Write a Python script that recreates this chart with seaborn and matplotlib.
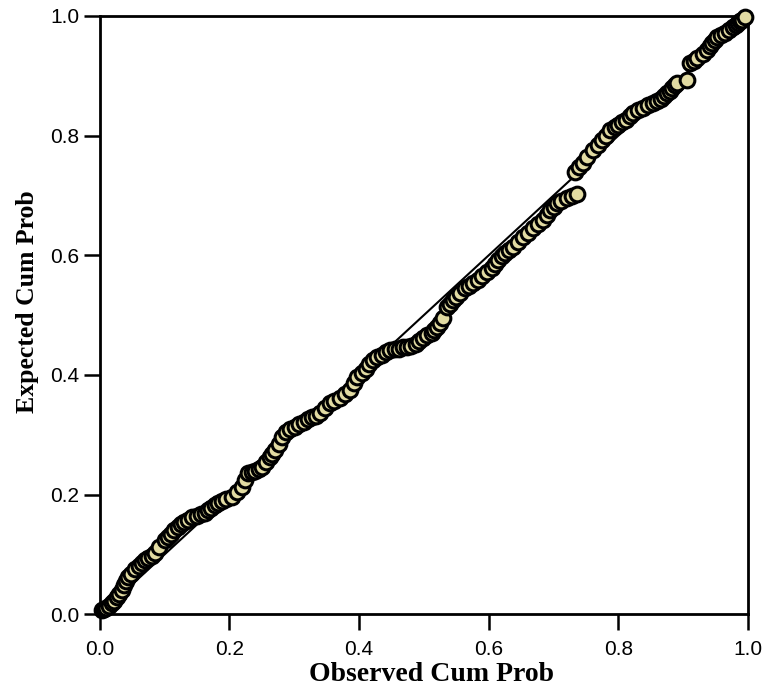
import pandas as pd
import seaborn as sns
import matplotlib.pyplot as plt

# P-P plot values (observed vs expected cumulative probability)
observed_lower = [0.003, 0.006, 0.010, 0.014, 0.018, 0.022, 0.026, 0.030, 0.034, 0.037,
                  0.040, 0.043, 0.048, 0.055, 0.060, 0.065, 0.070, 0.075, 0.080, 0.085,
                  0.092, 0.100, 0.105, 0.110, 0.115, 0.120, 0.125, 0.130, 0.136, 0.142,
                  0.150, 0.156, 0.162, 0.167, 0.172, 0.177, 0.182, 0.188, 0.195, 0.204,
                  0.212, 0.219, 0.224, 0.228, 0.234, 0.240, 0.245, 0.250, 0.256, 0.262,
                  0.266, 0.270, 0.276, 0.281, 0.287, 0.293, 0.301, 0.308, 0.315, 0.321,
                  0.327, 0.334, 0.340, 0.347, 0.355, 0.362, 0.370, 0.378, 0.386, 0.392,
                  0.397, 0.404, 0.410, 0.416, 0.421, 0.428, 0.435, 0.441, 0.448, 0.455,
                  0.462, 0.468, 0.474, 0.480, 0.487, 0.493, 0.499, 0.505, 0.512, 0.516,
                  0.520, 0.525, 0.530, 0.535, 0.540, 0.545, 0.550, 0.556, 0.563, 0.570,
                  0.576, 0.583, 0.590, 0.597, 0.605, 0.610, 0.615, 0.620, 0.625, 0.631,
                  0.637, 0.645, 0.653, 0.660, 0.668, 0.676, 0.684, 0.690, 0.695, 0.700,
                  0.705, 0.712, 0.720, 0.728, 0.736]
expected_lower = [0.007, 0.008, 0.010, 0.013, 0.018, 0.022, 0.028, 0.033, 0.040, 0.048,
                  0.055, 0.062, 0.067, 0.075, 0.080, 0.085, 0.090, 0.094, 0.098, 0.102,
                  0.112, 0.124, 0.129, 0.134, 0.140, 0.145, 0.150, 0.154, 0.158, 0.162,
                  0.164, 0.167, 0.169, 0.174, 0.178, 0.182, 0.186, 0.189, 0.192, 0.196,
                  0.204, 0.212, 0.224, 0.236, 0.238, 0.240, 0.243, 0.246, 0.254, 0.262,
                  0.268, 0.274, 0.285, 0.296, 0.304, 0.310, 0.313, 0.318, 0.322, 0.326,
                  0.329, 0.332, 0.336, 0.344, 0.353, 0.357, 0.362, 0.368, 0.375, 0.386,
                  0.396, 0.403, 0.410, 0.418, 0.425, 0.430, 0.434, 0.438, 0.441, 0.443,
                  0.444, 0.446, 0.447, 0.449, 0.452, 0.457, 0.462, 0.466, 0.470, 0.475,
                  0.480, 0.487, 0.495, 0.513, 0.519, 0.525, 0.531, 0.537, 0.545, 0.549,
                  0.553, 0.559, 0.565, 0.572, 0.578, 0.585, 0.592, 0.598, 0.603, 0.609,
                  0.614, 0.622, 0.630, 0.638, 0.645, 0.652, 0.659, 0.667, 0.675, 0.681,
                  0.687, 0.691, 0.695, 0.699, 0.702]

observed_upper = [0.733, 0.739, 0.745, 0.752, 0.761, 0.768, 0.775, 0.781, 0.787, 0.794,
                  0.800, 0.806, 0.812, 0.818, 0.823, 0.830, 0.838, 0.845, 0.853, 0.859,
                  0.865, 0.870, 0.875, 0.879, 0.883, 0.887, 0.890, 0.906, 0.910, 0.916,
                  0.922, 0.930, 0.937, 0.941, 0.945, 0.949, 0.952, 0.958, 0.965, 0.971,
                  0.977, 0.981, 0.985, 0.988, 0.991, 0.995]
expected_upper = [0.739, 0.747, 0.755, 0.765, 0.776, 0.784, 0.792, 0.800, 0.809, 0.814,
                  0.818, 0.822, 0.826, 0.832, 0.838, 0.842, 0.846, 0.851, 0.855, 0.858,
                  0.862, 0.866, 0.871, 0.875, 0.880, 0.884, 0.888, 0.893, 0.921, 0.925,
                  0.930, 0.936, 0.943, 0.949, 0.955, 0.960, 0.965, 0.968, 0.972, 0.977,
                  0.982, 0.985, 0.988, 0.991, 0.993, 0.998]

ref_line = [0.0, 1.0]
tick_values = [0.0, 0.2, 0.4, 0.6, 0.8, 1.0]
tick_labels = ["0.0", "0.2", "0.4", "0.6", "0.8", "1.0"]

df = pd.DataFrame({
    "observed": observed_lower + observed_upper,
    "expected": expected_lower + expected_upper,
})

sns.set_style("ticks")
plt.rcParams["font.family"] = ["Liberation Sans", "DejaVu Sans"]

fig, ax = plt.subplots(figsize=(7.68, 6.94), dpi=100)
fig.subplots_adjust(left=0.130, right=0.974, bottom=0.115, top=0.977)

# diagonal reference line, under the points
ax.plot(ref_line, ref_line, color="black", linewidth=1.5, zorder=1)

sns.scatterplot(data=df, x="observed", y="expected", ax=ax,
                color="#e2dba2", edgecolor="black", linewidth=2.2,
                s=112, zorder=3, clip_on=False, legend=False)

ax.set_xlim(0, 1)
ax.set_ylim(0, 1)
ax.set_xticks(tick_values, tick_labels)
ax.set_yticks(tick_values, tick_labels)
ax.tick_params(axis="both", length=11.5, width=1.8, labelsize=15, colors="black")
ax.tick_params(axis="x", pad=7)
ax.tick_params(axis="y", pad=3.5)

for side in ["left", "right", "top", "bottom"]:
    ax.spines[side].set_visible(True)
    ax.spines[side].set_linewidth(2)
    ax.spines[side].set_color("black")

ax.set_xlabel("Observed Cum Prob", family="Liberation Serif", weight="bold",
              size=20, color="black")
ax.set_ylabel("Expected Cum Prob", family="Liberation Serif", weight="bold",
              size=18.5, color="black")
ax.xaxis.set_label_coords(0.512, -0.080)
ax.yaxis.set_label_coords(-0.094, 0.523)

fig.savefig("out.png", dpi=100)
